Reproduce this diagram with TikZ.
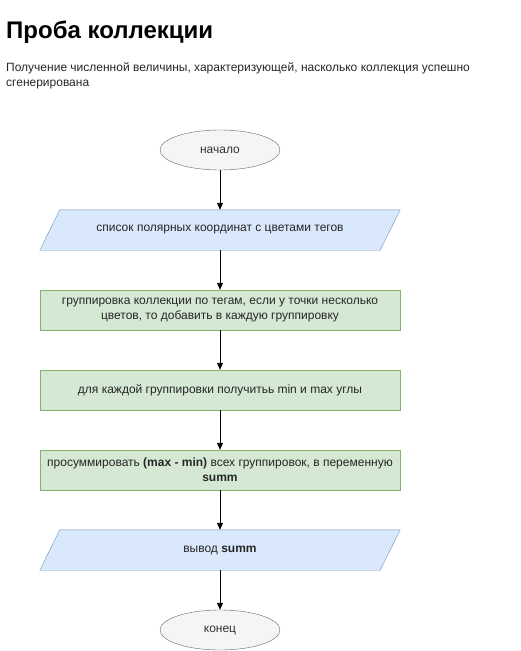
\documentclass[tikz,border=0pt]{standalone}
\usepackage{fontspec}
\setmainfont{Liberation Sans}
\usetikzlibrary{shapes.geometric,arrows.meta,backgrounds}
\definecolor{termfill}{HTML}{F5F5F5}
\definecolor{termline}{HTML}{666666}
\definecolor{iofill}{HTML}{DAE8FC}
\definecolor{ioline}{HTML}{6C8EBF}
\definecolor{procfill}{HTML}{D5E8D4}
\definecolor{procline}{HTML}{82B366}
\begin{document}
\begin{tikzpicture}[x=1pt,y=-1pt,font=\fontsize{12}{15}\selectfont,
  term/.style={shape=ellipse,draw=termline,fill=termfill,minimum width=120pt,minimum height=40pt,inner sep=0pt,text=black!80},
  iobox/.style={shape=rectangle,minimum width=340pt,minimum height=40pt,inner sep=0pt,text=black!85},
  ioshape/.style={draw=ioline,fill=iofill},
  procbox/.style={shape=rectangle,draw=procline,fill=procfill,minimum width=360pt,minimum height=40pt,inner sep=0pt,align=center,text=black!85},
  flow/.style={-{Triangle[length=7pt,width=6pt]},line width=0.9pt}]
\useasboundingbox (0,0) rectangle (520,651);
\node(title)[anchor=base west,inner sep=0pt,font=\fontsize{24}{28}\selectfont\bfseries] at (6,38){Проба коллекции};
\node(descr)[anchor=north west,align=left,inner sep=0pt,text=black!85] at (6,62){Получение численной величины, характеризующей, насколько коллекция успешно\\сгенерирована};
\node(start)[term] at (220,150){начало};
\node(input)[iobox] at (220,230){список полярных координат с цветами тегов};
\node(group)[procbox] at (220,310){группировка коллекции по тегам, если у точки несколько\\цветов, то добавить в каждую группировку};
\node(range)[procbox] at (220,390){для каждой группировки получитьь min и max углы};
\node(total)[procbox] at (220,470){просуммировать \textbf{(max - min)} всех группировок, в переменную\\\textbf{summ}};
\node(output)[iobox] at (220,550){вывод \textbf{summ}};
\node(stop)[term] at (220,630){конец};
% parallelograms for input/output
\begin{scope}[on background layer]
\foreach \n in {input,output}
  \draw[ioshape] ([xshift=-10pt]\n.south west)--([xshift=-10pt]\n.south east)--([xshift=10pt]\n.north east)--([xshift=10pt]\n.north west)--cycle;
\end{scope}
\draw[flow] (start)--(input);
\draw[flow] (input)--(group);
\draw[flow] (group)--(range);
\draw[flow] (range)--(total);
\draw[flow] (total)--(output);
\draw[flow] (output)--(stop);
\end{tikzpicture}
\end{document}
